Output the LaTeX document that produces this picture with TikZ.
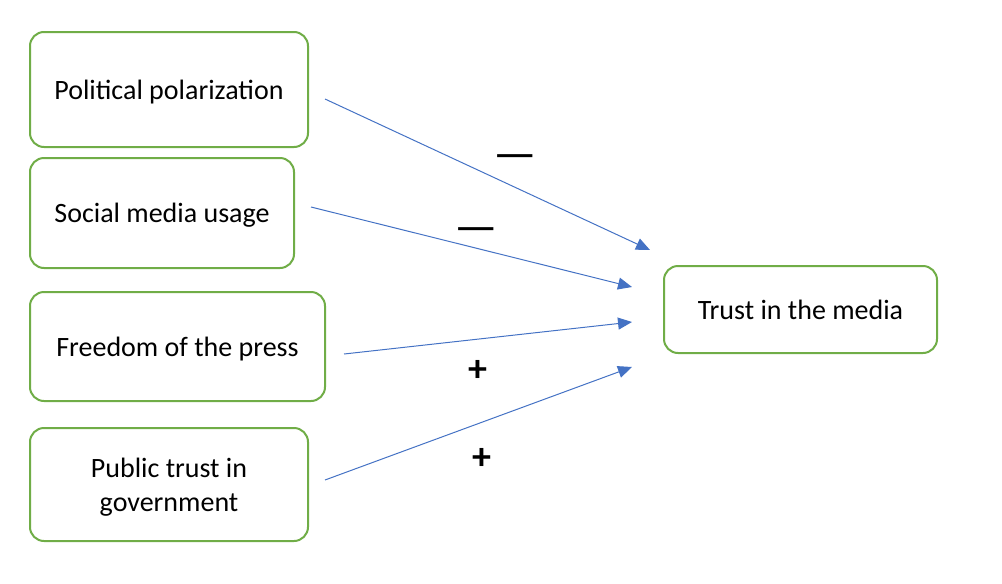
\documentclass[tikz,border=0pt]{standalone}
\usepackage{fontspec}
\setmainfont{Carlito}
\usetikzlibrary{arrows.meta}
\definecolor{boxgreen}{HTML}{70AD47}
\definecolor{arrowblue}{HTML}{4472C4}
\tikzset{
  factor/.style={draw=boxgreen, line width=2pt, rounded corners=14pt, fill=white,
    align=center, inner sep=0pt, text depth=0pt, font=\fontsize{28}{34}\selectfont},
  link/.style={draw=arrowblue, line width=1pt, -{Triangle[length=14pt,width=12pt]}},
  minus/.style={inner sep=0pt, font=\fontsize{48}{48}\selectfont},
  plus/.style={inner sep=0pt, font=\bfseries\fontsize{38}{38}\selectfont}
}
\begin{document}
\begin{tikzpicture}[x=1pt,y=-1pt]
\useasboundingbox (0,0) rectangle (1002,584);
\node[factor, minimum width=278pt, minimum height=115pt] (pp) at (169,89.5) {Political polarization};
\node[factor, minimum width=264pt, minimum height=110pt] (sm) at (162,213) {Social media usage};
\node[factor, minimum width=295pt, minimum height=109pt] (fp) at (177.5,346.5) {Freedom of the press};
\node[factor, minimum width=278pt, minimum height=113pt] (pt) at (169,484.5) {Public trust in\\government};
\node[factor, minimum width=273pt, minimum height=87pt] (tm) at (800.5,309.5) {Trust in the media};
\coordinate (s1) at (325,99);
\coordinate (e1) at (650,250);
\coordinate (s2) at (311,207);
\coordinate (e2) at (632,287);
\coordinate (s3) at (344,354);
\coordinate (e3) at (632,322);
\coordinate (s4) at (325,480);
\coordinate (e4) at (632,367);
\draw[link] (s1) -- (e1);
\draw[link] (s2) -- (e2);
\draw[link] (s3) -- (e3);
\draw[link] (s4) -- (e4);
\node[minus] (l1) at (515,162) {—};
\node[minus] (l2) at (476.5,235) {—};
\node[plus] (l3) at (477.5,371) {+};
\node[plus] (l4) at (482,459) {+};
\end{tikzpicture}
\end{document}
